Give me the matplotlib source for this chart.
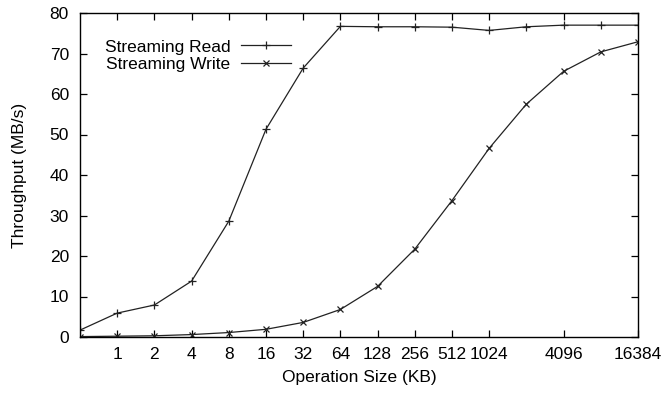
import numpy as np
import matplotlib
matplotlib.use('Agg')
import matplotlib.pyplot as plt

plt.rcParams['font.family'] = ['Liberation Sans', 'DejaVu Sans']

#%%
sizes = [0.5, 1, 2, 4, 8, 16, 32, 64, 128, 256, 512, 1024, 2048, 4096, 8192, 16384]
read = [1.7, 5.9, 7.9, 13.8, 28.6, 51.3, 66.4, 76.7, 76.6, 76.6, 76.5, 75.7, 76.6, 77.0, 77.0, 77.0]
write = [0.1, 0.2, 0.3, 0.6, 1.1, 1.9, 3.6, 6.8, 12.5, 21.7, 33.7, 46.6, 57.5, 65.6, 70.4, 72.9]
xticks = [1, 2, 4, 8, 16, 32, 64, 128, 256, 512, 1024, 4096, 16384]
yticks = [0, 10, 20, 30, 40, 50, 60, 70, 80]

#%%
fig = plt.figure(figsize=(6.65, 3.95), dpi=100)
ax = fig.add_axes([80/665, 1 - 337/395, 558/665, 324/395])

ax.plot(sizes, read, color='#222222', lw=0.9, marker='+', ms=6, mew=0.9, label='Streaming Read')
ax.plot(sizes, write, color='#222222', lw=0.9, marker='x', ms=5, mew=0.9, label='Streaming Write')

ax.set_xscale('log', base=2)
ax.set_xlim(0.5, 16384)
ax.set_ylim(0, 80)
ax.set_xticks(xticks)
ax.set_xticklabels([str(t) for t in xticks])
ax.minorticks_off()
ax.set_yticks(yticks)
ax.tick_params(axis='both', direction='in', top=True, right=True, length=5, width=0.9,
               labelsize=12.5)
ax.tick_params(axis='y', pad=8)
ax.tick_params(axis='x', pad=7)
for s in ax.spines.values():
    s.set_linewidth(1.0)

ax.set_xlabel('Operation Size (KB)', fontsize=12.5, labelpad=6)
ax.set_ylabel('Throughput (MB/s)', fontsize=12.5, labelpad=16)

leg = ax.legend(loc='upper left', bbox_to_anchor=(0.032, 0.94), frameon=False,
                markerfirst=False, fontsize=12.5, handlelength=2.9,
                labelspacing=0.15, handletextpad=0.6, borderaxespad=0)

fig.savefig('out.png', dpi=100)
